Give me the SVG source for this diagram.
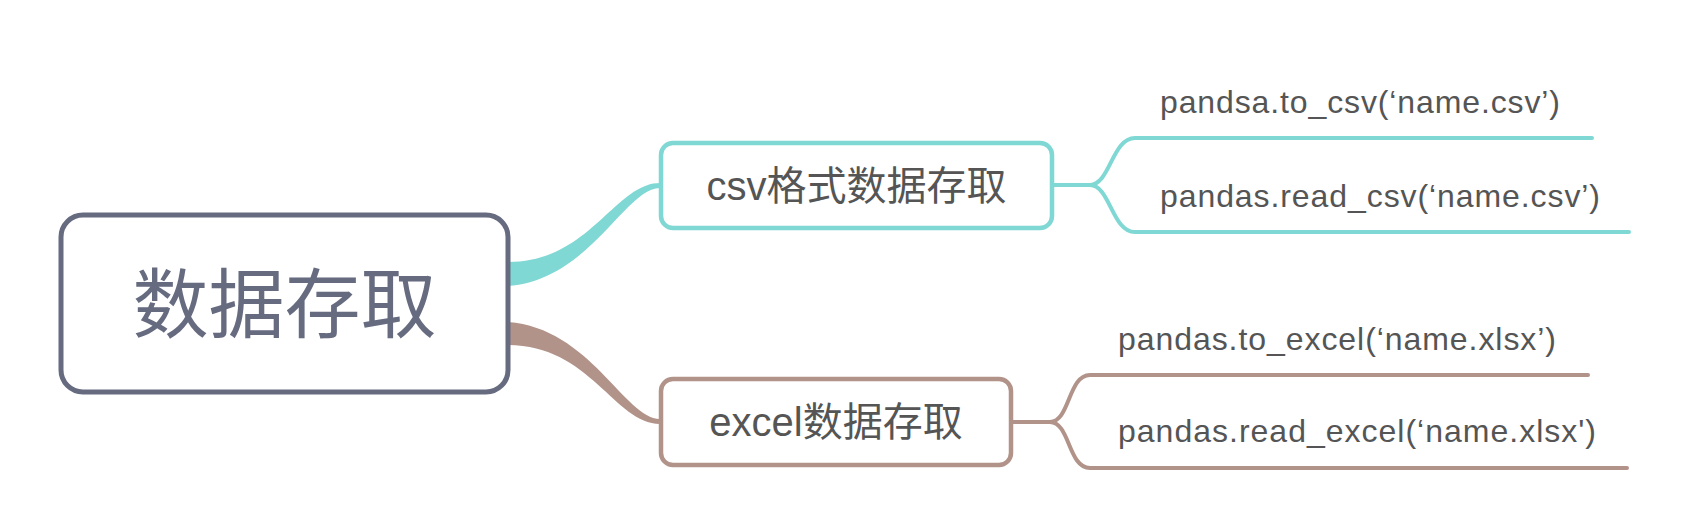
<svg xmlns="http://www.w3.org/2000/svg" width="1692" height="532" viewBox="0 0 1692 532">
<style>
.t{font-family:"Liberation Sans","Noto Sans CJK SC",sans-serif;fill:#555555}
.leaf{font-size:32px}
.cy{stroke:#80d8d4}
.br{stroke:#b29389}
.line{fill:none;stroke-width:4;stroke-linecap:round}
</style>
<rect width="1692" height="532" fill="#ffffff"/>
<g id="connectors">
<path d="M508,286 C590,280 625,188 660,188 L660,183 C615,183 590,262 508,262 Z" fill="#80d8d4"/>
<path d="M508,322 C590,328 625,419 660,419 L660,424 C615,424 590,345 508,345 Z" fill="#b29389"/>
<path class="line cy" d="M1053,185 H1090 C1110,185 1112,138 1135,138 H1592"/>
<path class="line cy" d="M1090,185 C1110,185 1112,232 1135,232 H1629"/>
<path class="line br" d="M1012,422 H1050 C1070,422 1068,375 1090,375 H1588"/>
<path class="line br" d="M1050,422 C1070,422 1068,468 1090,468 H1627"/>
</g>
<g id="root">
<rect x="61" y="215" width="447" height="177" rx="22" fill="#ffffff" stroke="#666b80" stroke-width="5"/>
<text class="t" x="284.5" y="332" font-size="76" text-anchor="middle" style="fill:#666b80">数据存取</text>
</g>
<g id="csv">
<rect x="661" y="143" width="391" height="85" rx="12" fill="#ffffff" stroke="#80d8d4" stroke-width="4.5"/>
<text class="t" x="856.5" y="200" font-size="40" text-anchor="middle">csv格式数据存取</text>
</g>
<g id="excel">
<rect x="661" y="379" width="350" height="86" rx="12" fill="#ffffff" stroke="#b29389" stroke-width="4.5"/>
<text class="t" x="836" y="436" font-size="40" text-anchor="middle">excel数据存取</text>
</g>
<g id="csv-write"><text class="t leaf" x="1160" y="113" textLength="400">pandsa.to_csv(‘name.csv’)</text></g>
<g id="csv-read"><text class="t leaf" x="1160" y="207" textLength="440">pandas.read_csv(‘name.csv’)</text></g>
<g id="excel-write"><text class="t leaf" x="1118" y="350" textLength="438">pandas.to_excel(‘name.xlsx’)</text></g>
<g id="excel-read"><text class="t leaf" x="1118" y="442" textLength="478">pandas.read_excel(‘name.xlsx')</text></g>
</svg>
